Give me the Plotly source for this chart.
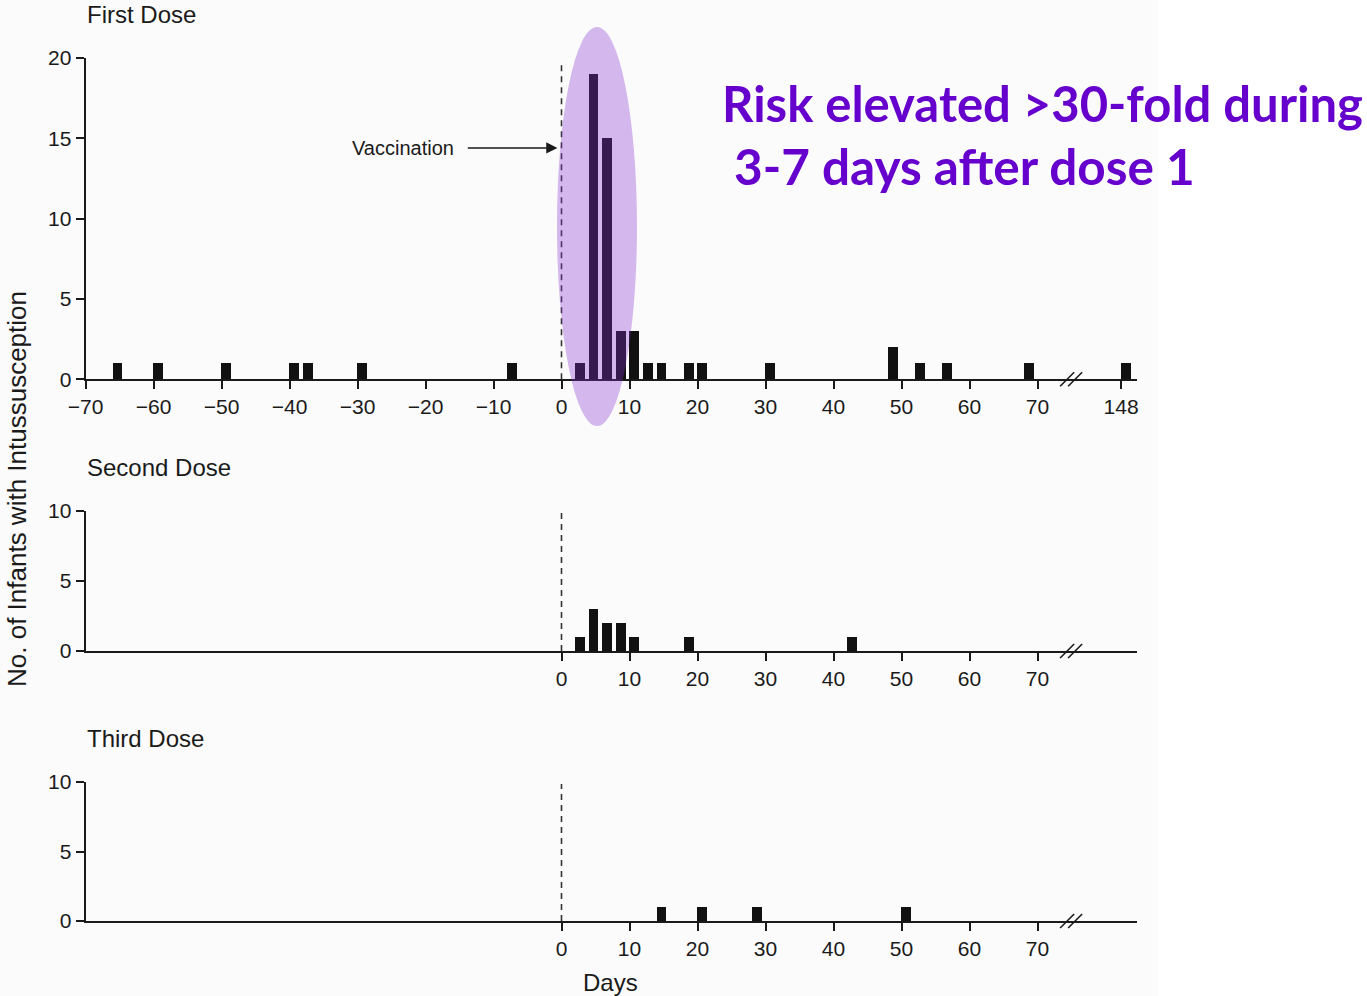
import plotly.graph_objects as go

# ---------------- data ----------------
dose1_days = [-66, -60, -50, -40, -38, -30, -8, 2, 4, 6, 8, 10, 12, 14, 18, 20, 30, 48, 52, 56, 68, 148]
dose1_counts = [1, 1, 1, 1, 1, 1, 1, 1, 19, 15, 3, 3, 1, 1, 1, 1, 1, 2, 1, 1, 1, 1]
dose2_days = [2, 4, 6, 8, 10, 18, 42]
dose2_counts = [1, 3, 2, 2, 1, 1, 1]
dose3_days = [14, 20, 28, 50]
dose3_counts = [1, 1, 1, 1]

panel_titles = ["First Dose", "Second Dose", "Third Dose"]
x_ticks_full = [-70, -60, -50, -40, -30, -20, -10, 0, 10, 20, 30, 40, 50, 60, 70]
x_ticks_post = [0, 10, 20, 30, 40, 50, 60, 70]
far_day_label = "148"
y_ticks_1 = [0, 5, 10, 15, 20]
y_ticks_23 = [0, 5, 10]

# broken axis: days beyond the break are drawn at a compressed position
FAR_DAY = 148
FAR_POS = 82.3
BREAK_POS = 74.8


def disp(d):
    return d if d <= 74 else FAR_POS + (d - FAR_DAY)


def minus(v):
    return ("\u2212" + str(-v)) if v < 0 else str(v)


# ---------------- layout geometry ----------------
W, H = 1367, 996
X_L, X_R = 85.5, 1137.0
PX_PER_DAY = 6.8
XMIN = -70
XMAX = XMIN + (X_R - X_L) / PX_PER_DAY


def fx(px):
    return px / W


def fy(py):
    return 1 - py / H


# (top_px, bottom_px, ymax)
panels = [(58.0, 379.3, 20), (511.0, 651.0, 10), (782.0, 921.0, 10)]

FONT = "Liberation Sans, Arial, Helvetica, sans-serif"
INK = "#1a1a1a"

fig = go.Figure()

series = [(dose1_days, dose1_counts), (dose2_days, dose2_counts), (dose3_days, dose3_counts)]
for i, (days, counts) in enumerate(series):
    ax = "" if i == 0 else str(i + 1)
    fig.add_trace(go.Bar(
        x=[disp(d) for d in days], y=counts,
        width=1.45, offset=-0.1,
        marker=dict(color="#111111", line=dict(width=0)),
        xaxis="x" + ax, yaxis="y" + ax, showlegend=False,
        hoverinfo="x+y",
    ))

layout = dict(
    template="none",
    width=W, height=H, autosize=False,
    margin=dict(l=0, r=0, t=0, b=0, pad=0, autoexpand=False),
    paper_bgcolor="white",
    plot_bgcolor="rgba(0,0,0,0)",
    bargap=0,
    font=dict(family=FONT, color=INK),
)

shapes = []
annotations = []

# faint scanned-page background
shapes.append(dict(type="rect", xref="paper", yref="paper", x0=0, x1=fx(1158), y0=0, y1=1,
                   fillcolor="#fbfbfb", line=dict(width=0), layer="below"))

for i, (top, bot, ymax) in enumerate(panels):
    ax = "" if i == 0 else str(i + 1)
    if i == 0:
        tv = x_ticks_full + [FAR_POS]
        tt = [minus(v) for v in x_ticks_full] + [far_day_label]
        ytv = y_ticks_1
    else:
        tv = x_ticks_post
        tt = [str(v) for v in x_ticks_post]
        ytv = y_ticks_23
    layout["xaxis" + ax] = dict(
        domain=[fx(X_L), fx(X_R)], range=[XMIN, XMAX], anchor="y" + ax,
        automargin=False,
        showgrid=False, zeroline=False, showline=True, linecolor=INK, linewidth=1.8,
        ticks="outside", ticklen=8, tickwidth=1.6, tickcolor=INK,
        tickvals=tv, ticktext=tt, tickfont=dict(size=21, family=FONT, color=INK),
        fixedrange=True,
    )
    layout["yaxis" + ax] = dict(
        domain=[fy(bot), fy(top)], range=[0, ymax], anchor="x" + ax,
        automargin=False,
        showgrid=False, zeroline=False, showline=True, linecolor=INK, linewidth=1.8,
        ticks="outside", ticklen=8, tickwidth=1.6, tickcolor=INK,
        tickvals=ytv, tickfont=dict(size=21, family=FONT, color=INK),
        fixedrange=True,
    )
    # dashed vaccination line at day 0
    shapes.append(dict(type="line", xref="x" + ax, yref="y" + ax, x0=0, x1=0, y0=0,
                       y1=ymax * (0.988 if i == 0 else 0.985),
                       line=dict(color="#333333", width=1.6, dash="6px,5px")))
    # axis break marks
    cx = X_L + (BREAK_POS - XMIN) * PX_PER_DAY
    for off in (-6, 2):
        shapes.append(dict(type="line", xref="paper", yref="paper",
                           x0=fx(cx + off - 4), y0=fy(bot + 7), x1=fx(cx + off + 10), y1=fy(bot - 7),
                           line=dict(color=INK, width=1.6)))
    # panel title
    title_y = [15, 467, 738][i]
    annotations.append(dict(text=panel_titles[i], xref="paper", yref="paper",
                            x=fx(85), y=fy(title_y), xanchor="left", yanchor="middle",
                            showarrow=False, font=dict(size=24, family=FONT, color=INK)))

# highlight ellipse around days 3-7 of dose 1
shapes.append(dict(type="circle", xref="paper", yref="paper",
                   x0=fx(557), x1=fx(637), y0=fy(426), y1=fy(27),
                   fillcolor="rgb(130,45,209)", opacity=0.33, line=dict(width=0), layer="above"))

# Vaccination label + arrow
annotations.append(dict(text="Vaccination", xref="paper", yref="paper", x=fx(403), y=fy(148),
                        xanchor="center", yanchor="middle", showarrow=False,
                        font=dict(size=20, family=FONT, color=INK)))
annotations.append(dict(text="", xref="x", yref="y", x=-0.6, y=14.4,
                        axref="x", ayref="y", ax=-14.0, ay=14.4,
                        showarrow=True, arrowhead=2, arrowsize=1.6, arrowwidth=1.4,
                        arrowcolor=INK, standoff=0))

# axis titles
annotations.append(dict(text="No. of Infants with Intussusception", xref="paper", yref="paper",
                        x=fx(17), y=fy(489), textangle=-90, xanchor="center", yanchor="middle",
                        showarrow=False, font=dict(size=26, family=FONT, color=INK)))
annotations.append(dict(text="Days", xref="paper", yref="paper", x=fx(610), y=fy(982),
                        xanchor="center", yanchor="middle", showarrow=False,
                        font=dict(size=24, family=FONT, color=INK)))

# callout text
PURPLE = "#6600CC"
annotations.append(dict(text="<b>Risk elevated >30-fold during</b>", xref="paper", yref="paper",
                        x=fx(720), y=fy(103), xanchor="left", yanchor="middle", showarrow=False,
                        font=dict(size=49, family="Lato, Open Sans, sans-serif", color=PURPLE)))
annotations.append(dict(text="<b>3-7 days after dose 1</b>", xref="paper", yref="paper",
                        x=fx(732), y=fy(166), xanchor="left", yanchor="middle", showarrow=False,
                        font=dict(size=49.5, family="Lato, Open Sans, sans-serif", color=PURPLE)))

layout["shapes"] = shapes
layout["annotations"] = annotations
fig.update_layout(**layout)

# remove the default 8px page margin so the figure sits at the window's top-left corner
fig.write_html("out.html", config={"displayModeBar": False},
               post_script="document.body.style.margin='0';")
